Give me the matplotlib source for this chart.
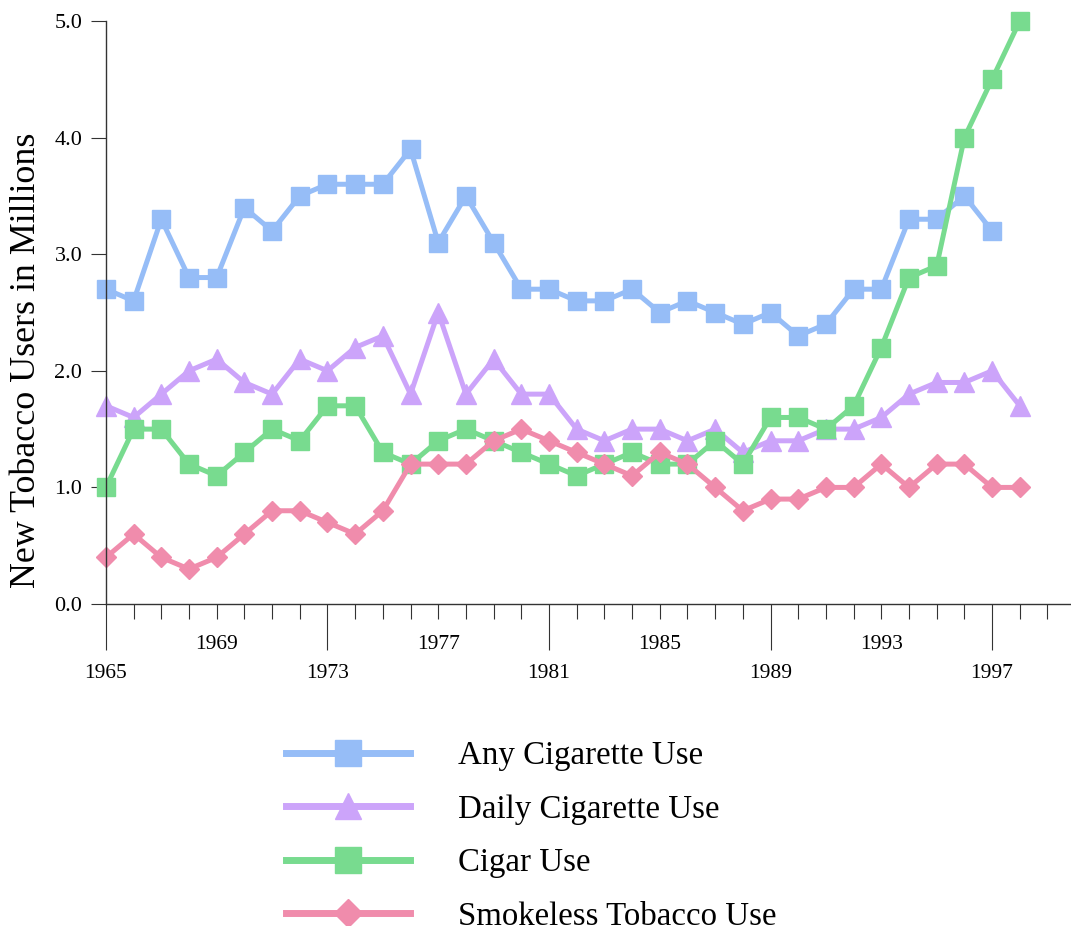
import numpy as np
import matplotlib
matplotlib.use('Agg')
import matplotlib.pyplot as plt
from matplotlib.lines import Line2D

plt.rcParams['font.family'] = ['Liberation Serif', 'DejaVu Serif']

# New tobacco users (millions) per year
years = list(range(1965, 1999))
any_cig = [2.7, 2.6, 3.3, 2.8, 2.8, 3.4, 3.2, 3.5, 3.6, 3.6, 3.6, 3.9, 3.1, 3.5, 3.1, 2.7, 2.7,
           2.6, 2.6, 2.7, 2.5, 2.6, 2.5, 2.4, 2.5, 2.3, 2.4, 2.7, 2.7, 3.3, 3.3, 3.5, 3.2]
daily_cig = [1.7, 1.6, 1.8, 2.0, 2.1, 1.9, 1.8, 2.1, 2.0, 2.2, 2.3, 1.8, 2.5, 1.8, 2.1, 1.8, 1.8,
             1.5, 1.4, 1.5, 1.5, 1.4, 1.5, 1.3, 1.4, 1.4, 1.5, 1.5, 1.6, 1.8, 1.9, 1.9, 2.0, 1.7]
cigar = [1.0, 1.5, 1.5, 1.2, 1.1, 1.3, 1.5, 1.4, 1.7, 1.7, 1.3, 1.2, 1.4, 1.5, 1.4, 1.3, 1.2,
         1.1, 1.2, 1.3, 1.2, 1.2, 1.4, 1.2, 1.6, 1.6, 1.5, 1.7, 2.2, 2.8, 2.9, 4.0, 4.5, 5.0]
smokeless = [0.4, 0.6, 0.4, 0.3, 0.4, 0.6, 0.8, 0.8, 0.7, 0.6, 0.8, 1.2, 1.2, 1.2, 1.4, 1.5, 1.4,
             1.3, 1.2, 1.1, 1.3, 1.2, 1.0, 0.8, 0.9, 0.9, 1.0, 1.0, 1.2, 1.0, 1.2, 1.2, 1.0, 1.0]

labels = ['Any Cigarette Use', 'Daily Cigarette Use', 'Cigar Use', 'Smokeless Tobacco Use']
colors = ['#96BDF7', '#CCA4FA', '#78DB8F', '#F08CAC']
markers = ['s', '^', 's', 'D']
series = [any_cig, daily_cig, cigar, smokeless]
msizes = [13, 14, 13, 10]
leg_msizes = [19, 19, 19, 14]

major_years = [1965, 1973, 1981, 1989, 1997]
minor_years = list(range(1965, 2000))

fig = plt.figure(figsize=(10.71, 9.26), dpi=100)
ax = fig.add_axes([0.0989, 0.3477, 0.9011, 0.6296])

for vals, c, m, ms in zip(series, colors, markers, msizes):
    ax.plot(years[:len(vals)], vals, color=c, marker=m, markersize=ms, lw=3.6,
            clip_on=False)

ax.set_xlim(1965, 1999.85)
ax.set_ylim(0, 5)
ax.set_yticks(np.arange(0, 5.1, 1.0))
ax.set_yticklabels([f'{v:.1f}' for v in np.arange(0, 5.1, 1.0)])

# long ticks every 8 years, short ticks every year, labels staggered in two rows
ax.set_xticks(major_years)
ax.set_xticklabels([str(y) for y in major_years])
ax.set_xticks(minor_years, minor=True)
ax.set_xticklabels([str(y) if y % 8 == 1 else '' for y in minor_years], minor=True)

for s in ['top', 'right']:
    ax.spines[s].set_visible(False)
for s in ['left', 'bottom']:
    ax.spines[s].set_color('#333333')
    ax.spines[s].set_linewidth(1.0)

ax.tick_params(axis='y', length=11, width=0.8, pad=6, labelsize=16, color='#333333')
ax.tick_params(axis='x', which='major', length=33, width=0.8, pad=10, labelsize=15.5, color='#333333')
ax.tick_params(axis='x', which='minor', length=11, width=0.8, pad=11, labelsize=15.5, color='#333333')

ax.set_ylabel('New Tobacco Users in Millions', fontsize=25.8)
ax.yaxis.set_label_coords(-0.065, 0.4185)

handles = [Line2D([], [], color=c, marker=m, lw=5, markersize=ms)
           for c, m, ms in zip(colors, markers, leg_msizes)]
fig.legend(handles, labels, loc='upper left', bbox_to_anchor=(0.252, 0.218), frameon=False,
           fontsize=23.7, handlelength=3.75, handletextpad=1.45, labelspacing=0.7, borderpad=0)

fig.savefig('out.png', dpi=100)
